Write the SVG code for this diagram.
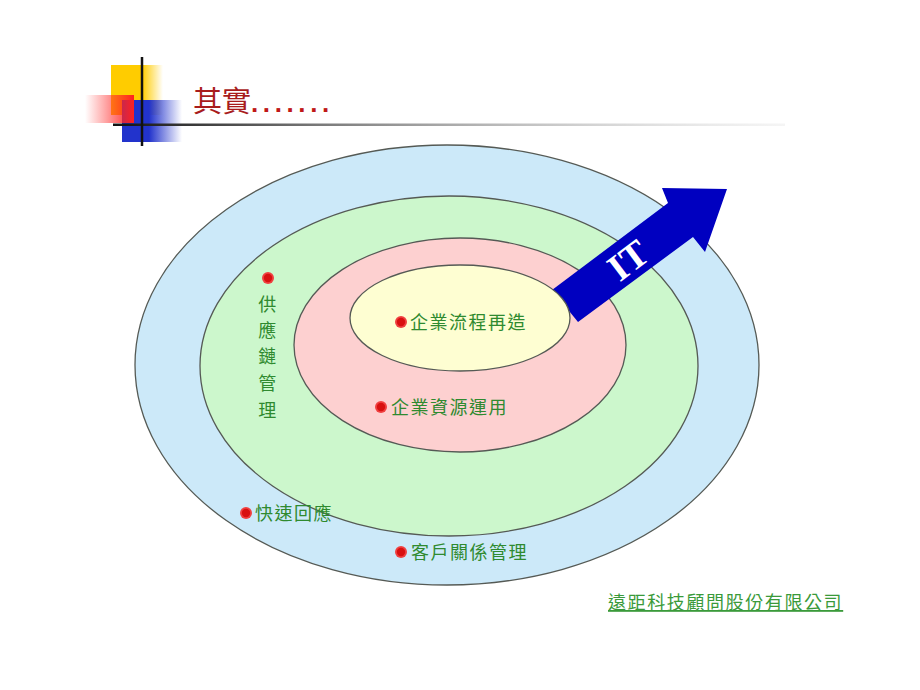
<svg xmlns="http://www.w3.org/2000/svg" width="920" height="690" viewBox="0 0 920 690">
<defs>
<style>
.ring{stroke:#555a55;stroke-width:1.3}
.lbl{font-family:"Noto Sans CJK TC","Noto Sans CJK SC",sans-serif;font-size:18px;fill:#2f8a2f;letter-spacing:1.5px}
.co{font-family:"Noto Sans CJK TC","Noto Sans CJK SC",sans-serif;font-size:18px;fill:#3a9a3a;letter-spacing:1.6px}
</style>
<linearGradient id="gY" x1="0" y1="0" x2="1" y2="0"><stop offset="0.6" stop-color="#ffcc00"/><stop offset="1" stop-color="#ffcc00" stop-opacity="0"/></linearGradient>
<linearGradient id="gR" x1="0" y1="0" x2="1" y2="0"><stop offset="0" stop-color="#ff3030" stop-opacity="0"/><stop offset="1" stop-color="#ff2020"/></linearGradient>
<linearGradient id="gB" x1="0" y1="0" x2="1" y2="0"><stop offset="0.45" stop-color="#2233cc"/><stop offset="1" stop-color="#2233cc" stop-opacity="0"/></linearGradient>
<linearGradient id="gL" x1="0" y1="0" x2="1" y2="0"><stop offset="0" stop-color="#111"/><stop offset="0.3" stop-color="#777"/><stop offset="1" stop-color="#ddd" stop-opacity="0.3"/></linearGradient>
<symbol id="bul" viewBox="-7 -7 14 14" overflow="visible">
<circle r="6" fill="#f04040"/><circle r="4.2" fill="#d81010"/>
</symbol>
</defs>
<rect width="920" height="690" fill="#ffffff"/>

<g id="header">
<rect x="111" y="65" width="52" height="50" fill="url(#gY)"/>
<rect x="122" y="100" width="60" height="42" fill="url(#gB)"/>
<rect x="85" y="95" width="49" height="28" fill="url(#gR)"/>
<rect x="113" y="123.5" width="672" height="2.5" fill="url(#gL)"/>
<line x1="142" y1="57" x2="142" y2="146" stroke="#111" stroke-width="2.5"/>
<text x="193" y="112" font-family="'Noto Sans CJK TC','Noto Sans CJK SC',serif" font-size="29" fill="#a81c1c">其實<tspan font-family="'Liberation Sans',sans-serif" font-weight="bold" font-size="26" letter-spacing="4.6" fill="#c01818">.......</tspan></text>
</g>

<g id="rings">
<ellipse id="outer" class="ring" cx="447" cy="365" rx="312" ry="220" fill="#cce9f9"/>
<ellipse id="middle" class="ring" cx="449" cy="366" rx="249" ry="170" fill="#ccf7cc"/>
<ellipse id="inner" class="ring" cx="460" cy="345" rx="166" ry="107" fill="#fdd0d0"/>
</g>

<g id="arrow">
<polygon points="552,290 668,203 662,188 727,189 705,252 693,237 578,322" fill="#0000c0"/>
<text x="0" y="0" transform="translate(628,260) rotate(-37)" text-anchor="middle" dominant-baseline="central" font-family="'Liberation Serif',serif" font-weight="bold" font-size="38" fill="#ffffff">IT</text>
</g>

<g id="core">
<ellipse class="ring" cx="460" cy="318" rx="110" ry="53" fill="#fefed2"/>
</g>

<g id="labels">
<g id="l1"><use href="#bul" x="394" y="315" width="14" height="14"/><text class="lbl" x="410" y="329">企業流程再造</text></g>
<g id="l2"><use href="#bul" x="374" y="400" width="14" height="14"/><text class="lbl" x="391" y="414">企業資源運用</text></g>
<g id="l3"><use href="#bul" x="261" y="271" width="14" height="14"/>
<text class="lbl" text-anchor="middle"><tspan x="268" y="311">供</tspan><tspan x="268" y="337">應</tspan><tspan x="268" y="363">鏈</tspan><tspan x="268" y="390">管</tspan><tspan x="268" y="417">理</tspan></text></g>
<g id="l4"><use href="#bul" x="239" y="506" width="14" height="14"/><text class="lbl" x="255" y="520">快速回應</text></g>
<g id="l5"><use href="#bul" x="394" y="545" width="14" height="14"/><text class="lbl" x="411" y="559">客戶關係管理</text></g>
</g>

<g id="company">
<text class="co" x="608" y="609" text-decoration="underline">遠距科技顧問股份有限公司</text>
</g>
</svg>
